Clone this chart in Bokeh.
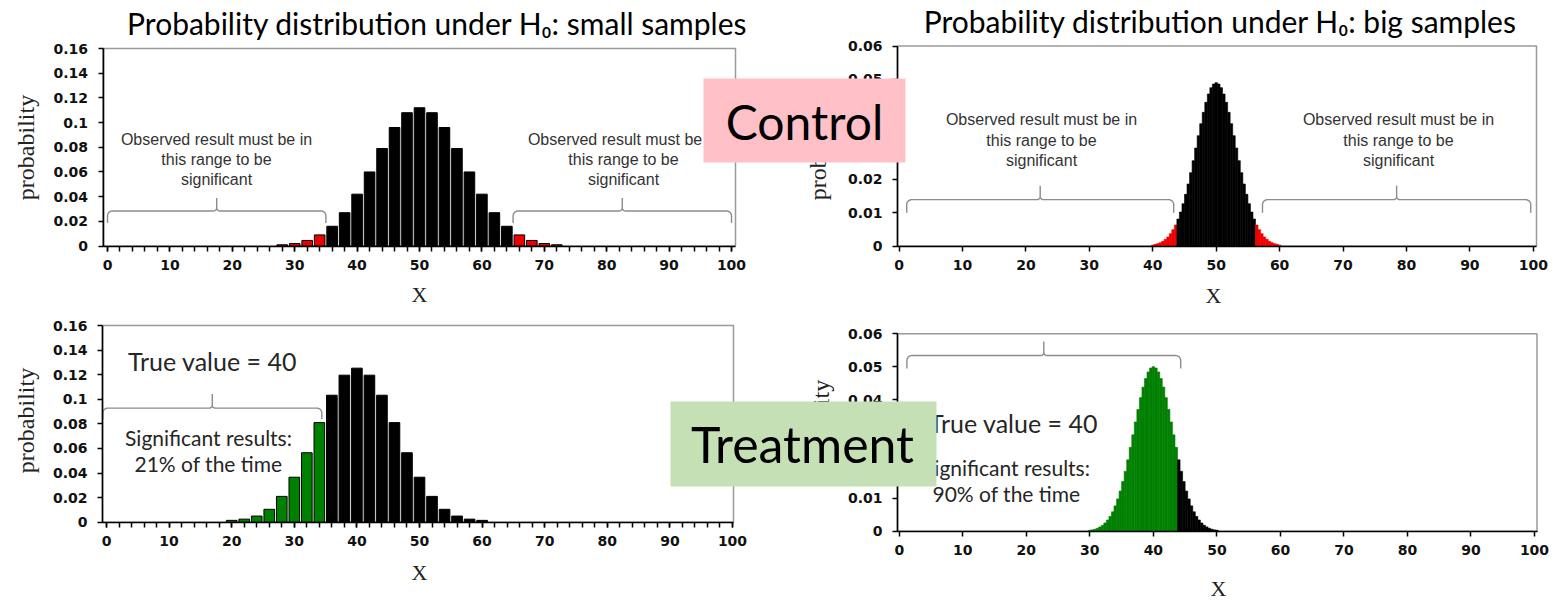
import numpy as np
from bokeh.plotting import figure
from bokeh.models import Range1d, LinearAxis, SingleIntervalTicker, FixedTicker
from bokeh.core.properties import value
from bokeh.embed import file_html
from bokeh.resources import INLINE

# ---------------- data ----------------
# small samples, H0 true (x = observed %)
small_h0_x = [28, 30, 32, 34, 36, 38, 40, 42, 44, 46, 48, 50, 52, 54, 56, 58, 60, 62, 64, 66, 68, 70, 72]
small_h0_p = [0.001, 0.002, 0.0045, 0.009, 0.016, 0.027, 0.042, 0.060, 0.079, 0.096, 0.108, 0.112,
              0.108, 0.096, 0.079, 0.060, 0.042, 0.027, 0.016, 0.009, 0.0045, 0.002, 0.001]
small_crit = [35, 65]

# small samples, true value 40
small_t_x = [20, 22, 24, 26, 28, 30, 32, 34, 36, 38, 40, 42, 44, 46, 48, 50, 52, 54, 56, 58, 60]
small_t_p = [0.0015, 0.0025, 0.005, 0.0105, 0.021, 0.0366, 0.0565, 0.081, 0.1033, 0.1196, 0.1253,
             0.1196, 0.1033, 0.081, 0.0565, 0.0366, 0.021, 0.0105, 0.005, 0.0025, 0.0015]

# big samples (bin width 0.4)
big_bin = 0.4
big_h0_x = [round(40 + big_bin * i, 1) for i in range(51)]
big_h0_p = [0.0003, 0.0005, 0.0007, 0.0010, 0.0014, 0.0020, 0.0027, 0.0037, 0.0049, 0.0063,
            0.0081, 0.0102, 0.0127, 0.0155, 0.0186, 0.0220, 0.0256, 0.0294, 0.0331, 0.0367,
            0.0401, 0.0431, 0.0456, 0.0475, 0.0486, 0.0490, 0.0486, 0.0475, 0.0456, 0.0431,
            0.0401, 0.0367, 0.0331, 0.0294, 0.0256, 0.0220, 0.0186, 0.0155, 0.0127, 0.0102,
            0.0081, 0.0063, 0.0049, 0.0037, 0.0027, 0.0020, 0.0014, 0.0010, 0.0007, 0.0005, 0.0003]
big_crit = [43.7, 56.3]

big_t_x = [round(30 + big_bin * i, 1) for i in range(51)]
big_t_p = [0.0003, 0.0004, 0.0006, 0.0009, 0.0013, 0.0018, 0.0025, 0.0034, 0.0045, 0.0059,
           0.0077, 0.0098, 0.0122, 0.0151, 0.0182, 0.0217, 0.0255, 0.0293, 0.0332, 0.0370,
           0.0406, 0.0438, 0.0464, 0.0484, 0.0496, 0.0500, 0.0496, 0.0484, 0.0464, 0.0438,
           0.0406, 0.0370, 0.0332, 0.0293, 0.0255, 0.0217, 0.0182, 0.0151, 0.0122, 0.0098,
           0.0077, 0.0059, 0.0045, 0.0034, 0.0025, 0.0018, 0.0013, 0.0009, 0.0006, 0.0004, 0.0003]

y_ticks_small = [0, 0.02, 0.04, 0.06, 0.08, 0.1, 0.12, 0.14, 0.16]
y_labels_small = ["0", "0.02", "0.04", "0.06", "0.08", "0.1", "0.12", "0.14", "0.16"]
y_ticks_big = [0, 0.01, 0.02, 0.03, 0.04, 0.05, 0.06]
y_labels_big = ["0", "0.01", "0.02", "0.03", "0.04", "0.05", "0.06"]

titles = ["Probability distribution under H\u2080: small samples",
          "Probability distribution under H\u2080: big samples"]
brace_text = "Observed result must be in\nthis range to be\nsignificant"

# ---------------- layout ----------------
FW, FH = 1555, 600
OX, OY = 0, 0

# page-pixel calibration of each chart: x=0, x=100, y=0, y=ymax, frame left/right
charts = {
    "c1": dict(x0=107, x100=731, y0=245.5, ytop=48, ymax=0.16, left=102.5, right=735),
    "c2": dict(x0=898.6, x100=1532.8, y0=245.5, ytop=45.5, ymax=0.06, left=897, right=1536),
    "c3": dict(x0=106, x100=732, y0=521.7, ytop=325, ymax=0.16, left=102, right=733),
    "c4": dict(x0=898.8, x100=1534, y0=530.7, ytop=333.3, ymax=0.06, left=897, right=1536.5),
}
exr, eyr = {}, {}
for n, c in charts.items():
    c["kx"] = (c["x100"] - c["x0"]) / 100.0
    c["ky"] = (c["y0"] - c["ytop"]) / c["ymax"]
    xs = -(c["x0"] - OX) / c["kx"]
    ys = -(OY + FH - c["y0"]) / c["ky"]
    exr[n] = Range1d(xs, xs + FW / c["kx"])
    eyr[n] = Range1d(ys, ys + FH / c["ky"])
    c["xlo"] = (c["left"] - c["x0"]) / c["kx"]
    c["xhi"] = (c["right"] - c["x0"]) / c["kx"]

p = figure(width=FW, height=FH, output_backend="svg", toolbar_location=None,
           x_axis_type=None, y_axis_type=None, min_border=0, title=None,
           x_range=Range1d(OX, OX + FW), y_range=Range1d(OY + FH, OY))
p.outline_line_color = None
p.background_fill_color = "white"
p.border_fill_color = "white"
p.extra_x_ranges = exr
p.extra_y_ranges = eyr

TICK_FONT = "DejaVu Sans"


def frame_and_axes(n, yticks, ylabels, minor):
    c = charts[n]
    p.quad(left=[c["xlo"]], right=[c["xhi"]], bottom=[0], top=[c["ymax"]],
           fill_color=None, line_color="#9a9a9a", line_width=1.5,
           x_range_name=n, y_range_name=n)
    xa = LinearAxis(x_range_name=n, y_range_name=n, fixed_location=0,
                    bounds=(c["xlo"], c["xhi"]),
                    ticker=SingleIntervalTicker(interval=10, num_minor_ticks=5 if minor else 0))
    ya = LinearAxis(x_range_name=n, y_range_name=n, fixed_location=c["xlo"],
                    bounds=(0, c["ymax"]), ticker=FixedTicker(ticks=yticks),
                    major_label_overrides=dict(zip(yticks, ylabels)))
    for ax in (xa, ya):
        ax.axis_line_color = "black"
        ax.axis_line_width = 1.6
        ax.major_tick_in = 0
        ax.major_tick_out = 5
        ax.minor_tick_in = 0
        ax.minor_tick_out = 5
        ax.major_tick_line_width = 1.5
        ax.minor_tick_line_width = 1.5
        ax.major_tick_line_color = "black"
        ax.minor_tick_line_color = "black" if minor else None
        ax.major_label_text_font = TICK_FONT
        ax.major_label_text_font_style = "bold"
        ax.major_label_text_font_size = "14px"
        ax.major_label_text_color = "#111111"
    xa.major_label_standoff = 9
    ya.major_label_standoff = 10
    ya.minor_tick_line_color = None
    p.add_layout(xa, "below")
    p.add_layout(ya, "left")


def brace(n, xa, xb, yl, tip=12, peak=13, r=5, rc=3):
    c = charts[n]
    kx, ky = c["kx"], c["ky"]
    rx, ry = r / kx, r / ky
    cx, cy = rc / kx, rc / ky
    xm = (xa + xb) / 2
    X, Y = [xa], [yl - tip / ky]
    t = np.linspace(np.pi, np.pi / 2, 9)
    X += list(xa + rx + rx * np.cos(t)); Y += list(yl - ry + ry * np.sin(t))
    t = np.linspace(-np.pi / 2, 0, 7)
    X += list(xm - cx + cx * np.cos(t)); Y += list(yl + cy + cy * np.sin(t))
    X.append(xm); Y.append(yl + peak / ky)
    t = np.linspace(np.pi, 1.5 * np.pi, 7)
    X += list(xm + cx + cx * np.cos(t)); Y += list(yl + cy + cy * np.sin(t))
    t = np.linspace(np.pi / 2, 0, 9)
    X += list(xb - rx + rx * np.cos(t)); Y += list(yl - ry + ry * np.sin(t))
    X.append(xb); Y.append(yl - tip / ky)
    p.line(X, Y, line_color="#8c8c8c", line_width=1.4, x_range_name=n, y_range_name=n)


def page_text(x, y, t, font, size, color="black", angle=0.0, align="center", style="normal", level="glyph"):
    p.text(x=[x], y=[y], text=[t], text_font=value(font), text_font_size=size,
           text_color=color, angle=angle, text_align=align, text_baseline="middle",
           text_font_style=style, level=level)


# ---------- chart 1: small samples under H0 ----------
frame_and_axes("c1", y_ticks_small, y_labels_small, True)
col1 = ["#ee0000" if (x < small_crit[0] or x > small_crit[1]) else "black" for x in small_h0_x]
p.vbar(x=small_h0_x, top=small_h0_p, width=1.7, bottom=0, fill_color=col1, line_color="black",
       line_width=1, x_range_name="c1", y_range_name="c1")
brace("c1", 0, 35, 0.0284, tip=12, peak=13)
brace("c1", 65, 100, 0.0284, tip=12, peak=13)

# ---------- chart 2: big samples under H0 ----------
frame_and_axes("c2", y_ticks_big, y_labels_big, False)
col2 = ["#ee0000" if (x < big_crit[0] or x > big_crit[1]) else "black" for x in big_h0_x]
p.vbar(x=big_h0_x, top=big_h0_p, width=big_bin, bottom=0, fill_color=col2, line_color=col2,
       line_width=0.6, x_range_name="c2", y_range_name="c2")
brace("c2", 1.2, 43.3, 0.0139, tip=13, peak=14)
brace("c2", 57.3, 99.6, 0.0139, tip=13, peak=14)

# ---------- chart 3: small samples, true value 40 ----------
frame_and_axes("c3", y_ticks_small, y_labels_small, True)
col3 = ["#008000" if x < small_crit[0] else "black" for x in small_t_x]
p.vbar(x=small_t_x, top=small_t_p, width=1.7, bottom=0, fill_color=col3, line_color="black",
       line_width=1, x_range_name="c3", y_range_name="c3")
brace("c3", -0.6, 34.4, 0.0928, tip=11, peak=14)

# ---------- chart 4: big samples, true value 40 ----------
frame_and_axes("c4", y_ticks_big, y_labels_big, False)
col4 = ["#008000" if x < big_crit[0] else "black" for x in big_t_x]
p.vbar(x=big_t_x, top=big_t_p, width=big_bin, bottom=0, fill_color=col4, line_color=col4,
       line_width=0.6, x_range_name="c4", y_range_name="c4")
brace("c4", 1.2, 44.3, 0.0534, tip=13, peak=14)

# ---------- texts ----------
TITLE_FONT = "Lato"
page_text(437, 22, titles[0], TITLE_FONT, "30px")
page_text(1220, 20, titles[1], TITLE_FONT, "30px")

SERIF = "Liberation Serif"
for (x, y) in [(25, 147), (817, 147), (25, 420), (820, 432)]:
    page_text(x, y, "probability", SERIF, "24px", color="#222222", angle=np.pi / 2)
for (x, y) in [(419, 294), (1213, 295), (419, 572), (1218, 588)]:
    page_text(x, y, "X", SERIF, "22px", color="#222222")

lines = brace_text.split("\n")
for cx in (216, 623):
    for ly, t in zip((139, 159, 179), lines):
        page_text(cx, ly, t, "Liberation Sans", "16px", color="#333333")
for cx in (1041, 1398):
    for ly, t in zip((119, 140, 160), lines):
        page_text(cx, ly, t, "Liberation Sans", "16px", color="#333333")

page_text(212, 360, "True value = 40", TITLE_FONT, "25px", color="#262626")
page_text(208, 437, "Significant results:", TITLE_FONT, "21px", color="#262626")
page_text(208, 463, "21% of the time", TITLE_FONT, "21px", color="#262626")
page_text(1013, 422, "True value = 40", TITLE_FONT, "25px", color="#262626")
page_text(1006, 467, "Significant results:", TITLE_FONT, "21px", color="#262626")
page_text(1006, 493, "90% of the time", TITLE_FONT, "21px", color="#262626")

# ---------- overlay boxes ----------
p.quad(left=[703], right=[905], top=[78], bottom=[162], fill_color="#FFC1C7", line_color=None,
       level="annotation")
page_text(804, 121, "Control", TITLE_FONT, "48px", color="black", level="annotation")
p.quad(left=[670], right=[936], top=[401], bottom=[486], fill_color="#C5E0B4", line_color=None,
       level="annotation")
page_text(802, 443, "Treatment", TITLE_FONT, "50px", color="black", level="annotation")

open("out.html", "w").write(file_html(p, INLINE))
